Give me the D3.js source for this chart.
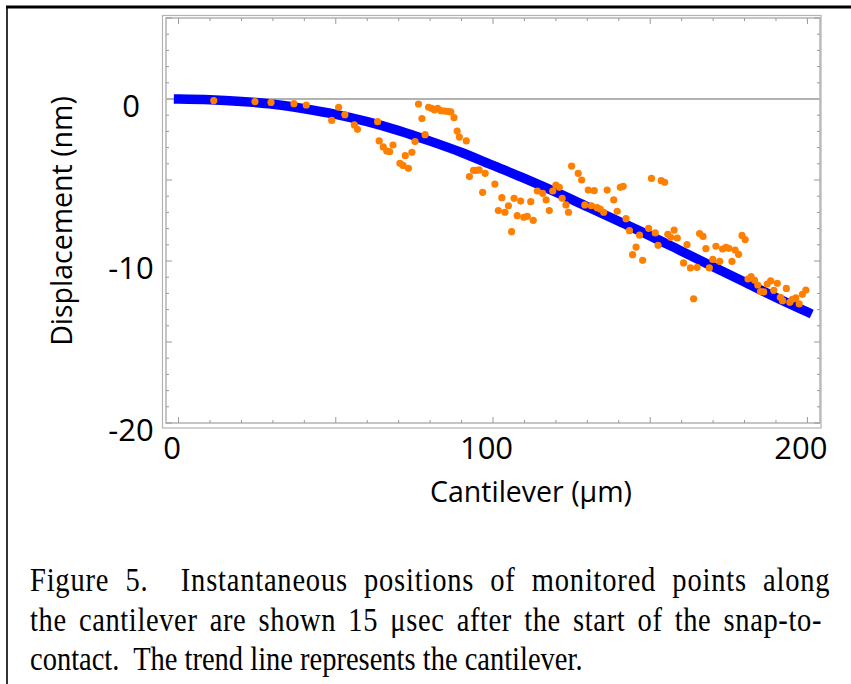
<!DOCTYPE html>
<html>
<head>
<meta charset="utf-8">
<script src="https://cdn.jsdelivr.net/npm/d3@7"></script>
<style>
  body { margin: 0; background: #fff; }
  svg { display: block; }
</style>
</head>
<body>
<div id="chart"></div>
<script>
// monitored points (cantilever position um, displacement nm)
let ptX = [11.2, 24.3, 29.4, 36.7, 40.6, 48.7, 50.9, 52.9, 55.9, 56.9,
  63.3, 63.8, 65.1, 66.2, 67.1, 68.2, 70.4, 71.4, 72.1, 73.1,
  74.2, 75.2, 76.3, 77.4, 78.4, 79.5, 80.5, 81.4, 82.4, 83.5,
  84.6, 85.6, 86.6, 87.6, 88.6, 89.3, 91.5, 92.5, 93.8, 94.7,
  95.6, 96.7, 97.5, 100.6, 101.7, 102.8, 103.8, 104.9, 105.9, 106.7,
  107.7, 108.8, 109.8, 110.9, 112.0, 112.8, 114.1, 115.8, 116.9, 117.9,
  119.0, 120.0, 121.1, 122.0, 123.2, 124.0, 125.0, 127.1, 128.2, 129.2,
  130.3, 131.3, 132.2, 133.1, 134.1, 135.2, 136.3, 138.4, 139.5, 140.5,
  141.4, 142.3, 143.4, 144.4, 145.5, 146.6, 147.6, 149.5, 150.4, 151.6,
  152.5, 153.5, 154.6, 155.6, 156.5, 157.6, 158.6, 160.6, 161.7, 162.8,
  163.8, 164.9, 165.7, 166.8, 167.7, 168.8, 169.9, 170.9, 172.1, 173.0,
  174.1, 175.0, 176.0, 177.0, 178.1, 179.2, 180.2, 181.1, 182.1, 183.2,
  184.2, 185.1, 186.1, 187.2, 188.3, 189.3, 190.4, 191.4, 192.1, 193.3,
  194.4, 195.2, 196.3, 197.4, 198.4, 199.5];
let ptY = [-0.10, -0.16, -0.21, -0.29, -0.37, -1.32, -0.51, -0.97, -1.60, -1.87,
  -1.40, -2.59, -2.96, -3.21, -3.25, -2.84, -3.97, -4.10, -3.50, -4.28,
  -3.29, -2.63, -0.31, -1.21, -2.20, -0.51, -0.58, -0.68, -0.58, -0.72,
  -0.74, -0.76, -0.80, -1.15, -1.98, -2.35, -2.59, -4.79, -4.40, -4.40,
  -4.38, -5.76, -4.59, -5.25, -6.89, -6.09, -6.99, -6.59, -8.19, -6.13,
  -7.20, -6.30, -7.30, -7.24, -6.34, -7.49, -5.68, -5.82, -6.23, -6.89,
  -5.68, -5.31, -5.45, -6.13, -6.54, -6.99, -4.14, -4.59, -5.00, -6.54,
  -5.62, -6.59, -5.66, -6.71, -6.79, -6.99, -5.62, -6.23, -6.93, -5.45,
  -5.39, -7.39, -8.13, -9.61, -9.14, -8.40, -9.96, -7.98, -4.90, -8.27,
  -9.03, -5.04, -5.14, -8.35, -8.54, -8.09, -8.58, -10.12, -8.99, -10.43,
  -12.33, -10.39, -8.31, -8.48, -9.24, -10.43, -9.90, -9.09, -10.02, -9.26,
  -9.16, -9.22, -10.02, -9.32, -9.59, -8.42, -8.68, -11.11, -10.97, -11.19,
  -11.48, -11.89, -11.91, -11.42, -11.23, -11.81, -11.38, -12.24, -12.45, -11.69,
  -12.55, -12.36, -12.28, -12.65, -12.06, -11.79];

// trend line (the cantilever)
let lineX = [0, 10, 20, 30, 40, 50, 60, 70, 80, 90, 100,
  110, 120, 130, 140, 150, 160, 170, 180, 190, 200];
let lineY = [0, -0.04, -0.15, -0.32, -0.6, -0.95, -1.4, -1.95, -2.6, -3.3, -4.1,
  -4.9, -5.75, -6.65, -7.55, -8.45, -9.4, -10.35, -11.3, -12.25, -13.15];

let xTickLabels = [0, 100, 200];
let yTickLabels = [0, -10, -20];

let caption = [
  'Figure 5.\u00a0 Instantaneous positions of monitored points along',
  'the cantilever are shown 15 \u03bcsec after the start of the snap-to-',
  'contact.\u00a0 The trend line represents the cantilever.'
];

let width = 851;
let height = 684;

let x = d3.scaleLinear().domain([-4, 204]).range([166, 820]);
let y = d3.scaleLinear().domain([-20, 5]).range([423, 18]);

const svg = d3.select('#chart').append('svg')
  .attr('width', width)
  .attr('height', height);

svg.append('rect').attr('width', width).attr('height', height).attr('fill', '#fff');

// outer black box (page border)
svg.append('line').attr('x1', 6).attr('x2', width).attr('y1', 7).attr('y2', 7)
  .attr('stroke', '#000').attr('stroke-width', 3);
svg.append('line').attr('x1', 7).attr('x2', 7).attr('y1', 6).attr('y2', height)
  .attr('stroke', '#000').attr('stroke-width', 1.6);

const gray = '#b3b3b3';

// double frame
svg.append('rect')
  .attr('x', 162.5).attr('y', 15.5).attr('width', 821 - 162.5).attr('height', 428 - 15.5)
  .attr('fill', 'none').attr('stroke', gray).attr('stroke-width', 1.2);
svg.append('rect')
  .attr('x', x.range()[0]).attr('y', y.range()[1])
  .attr('width', x.range()[1] - x.range()[0]).attr('height', y.range()[0] - y.range()[1])
  .attr('fill', 'none').attr('stroke', gray).attr('stroke-width', 1.5);

// frame ticks (inside), all four sides
let tickG = svg.append('g').attr('stroke', '#999').attr('stroke-width', 1);
let xt = d3.range(0, 201, 10);
let yt = d3.range(-20, 6, 1);
xt.forEach(v => {
  let len = v % 50 === 0 ? 6 : 3;
  tickG.append('line').attr('x1', x(v)).attr('x2', x(v))
    .attr('y1', y.range()[0]).attr('y2', y.range()[0] - len);
  tickG.append('line').attr('x1', x(v)).attr('x2', x(v))
    .attr('y1', y.range()[1]).attr('y2', y.range()[1] + len);
});
yt.forEach(v => {
  let len = v % 5 === 0 ? 6 : 3;
  tickG.append('line').attr('y1', y(v)).attr('y2', y(v))
    .attr('x1', x.range()[0]).attr('x2', x.range()[0] + len);
  tickG.append('line').attr('y1', y(v)).attr('y2', y(v))
    .attr('x1', x.range()[1]).attr('x2', x.range()[1] - len);
});

// zero line
svg.append('line')
  .attr('x1', x.range()[0]).attr('x2', x.range()[1])
  .attr('y1', y(0)).attr('y2', y(0))
  .attr('stroke', gray).attr('stroke-width', 1.8);

// trend line
let line = d3.line()
  .x((d, i) => x(lineX[i]))
  .y(d => y(d))
  .curve(d3.curveMonotoneX);

svg.append('path')
  .datum(lineY)
  .attr('fill', 'none')
  .attr('stroke', '#0000ff')
  .attr('stroke-width', 9.5)
  .attr('stroke-linecap', 'square')
  .attr('stroke-linejoin', 'round')
  .attr('d', line);

// points
svg.append('g')
  .selectAll('circle')
  .data(ptX)
  .join('circle')
  .attr('cx', d => x(d))
  .attr('cy', (d, i) => y(ptY[i]))
  .attr('r', 3.6)
  .attr('fill', '#ff8000');

// tick labels (overlaid, slightly offset like the original)
let labelFont = "'Open Sans', sans-serif";

let xAxis = g => g
  .attr('transform', `translate(-7, ${y.range()[0]})`)
  .call(d3.axisBottom(x).tickValues(xTickLabels).tickSize(0).tickPadding(0))
  .call(g => g.select('.domain').remove())
  .call(g => g.selectAll('text')
    .attr('dy', null)
    .attr('y', 36)
    .attr('fill', '#000')
    .attr('font-size', 31)
    .attr('font-family', labelFont));

let yAxis = g => g
  .attr('transform', `translate(131, 8)`)
  .call(d3.axisLeft(y).tickValues(yTickLabels).tickFormat(d => String(d)).tickSize(0).tickPadding(0))
  .call(g => g.select('.domain').remove())
  .call(g => g.selectAll('text')
    .attr('x', 0)
    .attr('text-anchor', 'middle')
    .attr('fill', '#000')
    .attr('font-size', 31)
    .attr('font-family', labelFont));

svg.append('g').call(xAxis);
svg.append('g').call(yAxis);

// axis titles
svg.append('text')
  .attr('x', 531).attr('y', 502)
  .attr('text-anchor', 'middle')
  .attr('font-family', labelFont)
  .attr('font-size', 28.5)
  .text('Cantilever (\u03bcm)');

svg.append('text')
  .attr('transform', 'translate(72, 221) rotate(-90)')
  .attr('text-anchor', 'middle')
  .attr('font-family', labelFont)
  .attr('font-size', 28.5)
  .text('Displacement (nm)');

// caption, first two lines justified (spread over letters and spaces)
let capLeft = 30, capRight = 822;
caption.forEach((s, i) => {
  let t = svg.append('text')
    .attr('transform', `translate(${capLeft}, ${591 + i * 39.5}) scale(1, 1.16)`)
    .attr('font-family', "'Liberation Serif', 'Times New Roman', serif")
    .attr('font-size', 28.5)
    .attr('fill', '#000')
    .style('white-space', 'pre')
    .text(s);
  if (i < 2) {
    let w = t.node().getComputedTextLength();
    let extra = capRight - capLeft - w;
    let gaps = (s.match(/ /g) || []).length;
    let ls = 0.45 * extra / s.length;
    t.attr('letter-spacing', ls)
      .attr('word-spacing', (extra - ls * s.length) / gaps);
  }
});
</script>
</body>
</html>
